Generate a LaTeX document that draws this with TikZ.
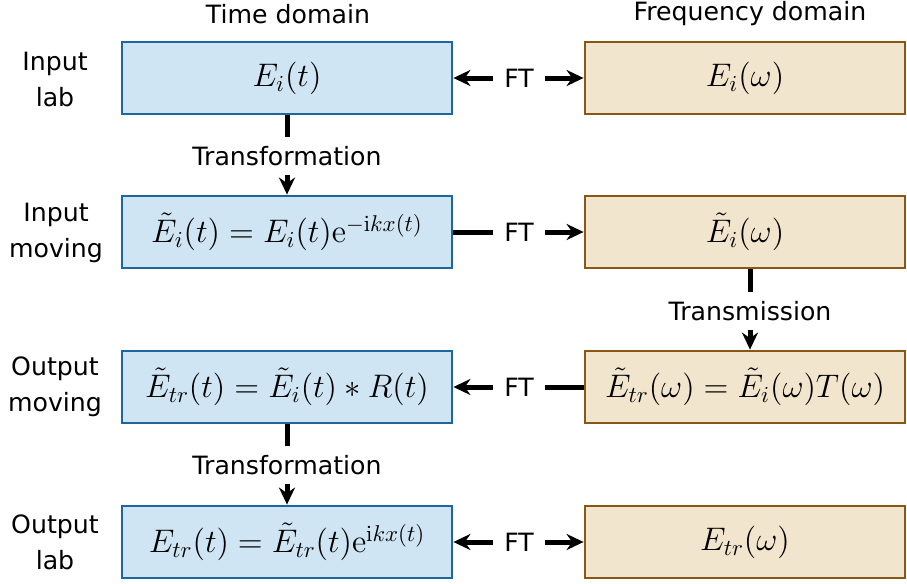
\RequirePackage{fix-cm}
\documentclass[tikz,border=0pt]{standalone}
\usepackage[no-math]{fontspec}
\setmainfont{DejaVu Sans}
\usepackage{amsmath}
\usetikzlibrary{arrows.meta}

\definecolor{timefill}{HTML}{CFE5F3}
\definecolor{timeline}{HTML}{1F669C}
\definecolor{freqfill}{HTML}{F1E5CE}
\definecolor{freqline}{HTML}{8A5614}

\tikzset{
  timebox/.style={draw=timeline,fill=timefill,line width=1.4pt,minimum width=165pt,minimum height=36pt,inner sep=0pt,font=\fontsize{16.3}{20}\selectfont},
  freqbox/.style={draw=freqline,fill=freqfill,line width=1.4pt,minimum width=160pt,minimum height=36pt,inner sep=0pt,font=\fontsize{16.3}{20}\selectfont},
  ftlabel/.style={minimum width=26pt,minimum height=14pt,inner sep=0pt},
  steplabel/.style={minimum height=19pt,inner sep=0pt},
  conn/.style={line width=2.5pt},
  arr/.style={line width=2.5pt,-{Stealth[length=8.5pt,width=8pt]}}
}

\begin{document}
\fontsize{12.6}{18}\selectfont
\begin{tikzpicture}[x=0.5pt,y=-0.5pt]
        \useasboundingbox (0,0) rectangle (907,584);

        % column headings
        \node (thead) at (288,14){Time domain};
        \node (fhead) at (750,14){Frequency domain};

        % row labels
        \node[align=center] (lab1) at (55,79){Input\\lab};
        \node[align=center] (lab2) at (56,233){Input\\moving};
        \node[align=center] (lab3) at (55,387){Output\\moving};
        \node[align=center] (lab4) at (55,542){Output\\lab};

        % time domain boxes
        \node[timebox] (t1) at (287,78){$E_i(t)$};
        \node[timebox] (t2) at (287,232){$\tilde{E}_i(t)=E_i(t)\mathrm{e}^{-\mathrm{i}kx(t)}$};
        \node[timebox] (t3) at (287,387){$\tilde{E}_{tr}(t)=\tilde{E}_i(t)*R(t)$};
        \node[timebox] (t4) at (287,542){$E_{tr}(t)=\tilde{E}_{tr}(t)\mathrm{e}^{\mathrm{i}kx(t)}$};

        % frequency domain boxes
        \node[freqbox] (f1) at (745,78){$E_i(\omega)$};
        \node[freqbox] (f2) at (745,232){$\tilde{E}_i(\omega)$};
        \node[freqbox] (f3) at (745,387){$\tilde{E}_{tr}(\omega)=\tilde{E}_i(\omega)T(\omega)$};
        \node[freqbox] (f4) at (745,542){$E_{tr}(\omega)$};

        % FT links
        \node[ftlabel] (ft1) at (519,78){FT};
        \node[ftlabel] (ft2) at (519,232){FT};
        \node[ftlabel] (ft3) at (519,387){FT};
        \node[ftlabel] (ft4) at (519,542){FT};

        \draw[arr](ft1)--(t1);
        \draw[arr](ft1)--(f1);
        \draw[conn](t2)--(ft2);
        \draw[arr](ft2)--(f2);
        \draw[conn](f3)--(ft3);
        \draw[arr](ft3)--(t3);
        \draw[arr](ft4)--(t4);
        \draw[arr](ft4)--(f4);

        % vertical steps
        \node[steplabel] (tr1) at (287,156){Transformation};
        \node[steplabel] (tm) at (750,311){Transmission};
        \node[steplabel] (tr2) at (287,465){Transformation};

        \draw[conn](t1.south-|tr1)--(tr1);
        \draw[arr](tr1)--(t2.north-|tr1);
        \draw[conn](f2.south-|tm)--(tm);
        \draw[arr](tm)--(f3.north-|tm);
        \draw[conn](t3.south-|tr2)--(tr2);
        \draw[arr](tr2)--(t4.north-|tr2);

    \end{tikzpicture}
\end{document}
